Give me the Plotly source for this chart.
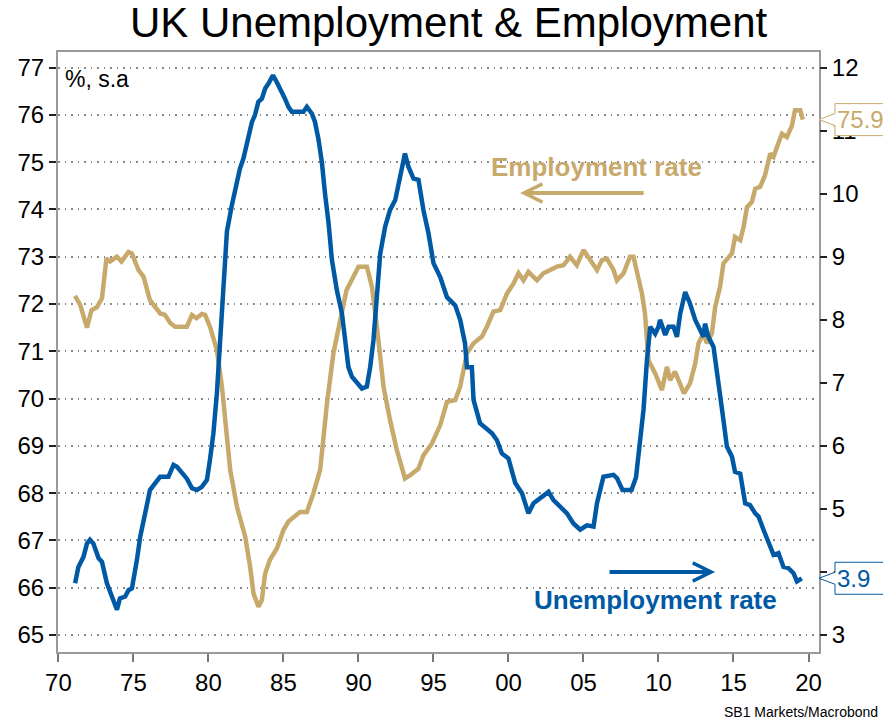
import plotly.graph_objects as go

# UK employment rate (%, left axis) and unemployment rate (%, right axis), s.a.
emp_years = [
    1971.10, 1971.45, 1971.90, 1972.20, 1972.56, 1972.90, 1973.20, 1973.45, 1973.90, 1974.20,
    1974.67, 1974.90, 1975.33, 1975.67, 1976.10, 1976.45, 1976.78, 1977.10, 1977.45, 1977.78,
    1978.56, 1978.90, 1979.20, 1979.56, 1979.78, 1980.10, 1980.56, 1980.90, 1981.23, 1981.45,
    1981.90, 1982.45, 1982.78, 1983.00, 1983.33, 1983.56, 1983.78, 1984.10, 1984.56, 1985.00,
    1985.33, 1985.67, 1986.10, 1986.56, 1987.00, 1987.45, 1987.90, 1988.33, 1988.78, 1989.20,
    1989.67, 1990.00, 1990.56, 1990.90, 1991.23, 1991.67, 1992.10, 1992.56, 1993.10, 1993.45,
    1994.00, 1994.33, 1994.90, 1995.45, 1995.90, 1996.45, 1996.78, 1997.23, 1997.67, 1998.23,
    1998.56, 1999.00, 1999.45, 1999.90, 2000.33, 2000.67, 2001.00, 2001.33, 2001.90, 2002.33,
    2002.78, 2003.23, 2003.67, 2004.10, 2004.56, 2005.00, 2005.45, 2005.90, 2006.23, 2006.56,
    2007.00, 2007.23, 2007.67, 2008.10, 2008.33, 2008.67, 2008.90, 2009.10, 2009.33, 2009.78,
    2010.23, 2010.56, 2010.78, 2011.10, 2011.45, 2011.70, 2012.10, 2012.45, 2012.67, 2013.00,
    2013.23, 2013.56, 2013.78, 2014.10, 2014.33, 2014.67, 2014.90, 2015.10, 2015.45, 2015.67,
    2015.90, 2016.23, 2016.45, 2016.78, 2017.10, 2017.45, 2017.67, 2017.90, 2018.23, 2018.56,
    2018.90, 2019.10, 2019.45, 2019.62,
]
emp_rate = [
    72.17, 71.98, 71.50, 71.87, 71.93, 72.12, 72.96, 72.90, 73.00, 72.90,
    73.10, 73.07, 72.72, 72.58, 72.08, 71.94, 71.80, 71.77, 71.60, 71.52,
    71.52, 71.77, 71.70, 71.79, 71.77, 71.52, 71.03, 70.25, 69.26, 68.49,
    67.71, 67.08, 66.44, 65.88, 65.60, 65.74, 66.30, 66.59, 66.83, 67.22,
    67.40, 67.50, 67.60, 67.60, 68.00, 68.50, 69.90, 70.96, 71.60, 72.29,
    72.58, 72.79, 72.79, 72.36, 71.52, 70.25, 69.55, 68.91, 68.31, 68.38,
    68.52, 68.80, 69.05, 69.44, 69.93, 69.97, 70.25, 70.96, 71.17, 71.31,
    71.52, 71.84, 71.87, 72.22, 72.43, 72.65, 72.50, 72.68, 72.50, 72.65,
    72.72, 72.79, 72.82, 73.00, 72.82, 73.14, 72.93, 72.72, 72.93, 72.96,
    72.72, 72.50, 72.65, 73.00, 73.00, 72.50, 72.22, 71.80, 70.81, 70.53,
    70.18, 70.67, 70.39, 70.57, 70.32, 70.11, 70.32, 70.74, 71.17, 71.38,
    71.17, 71.38, 71.94, 72.36, 72.86, 73.00, 73.07, 73.42, 73.35, 73.63,
    74.05, 74.16, 74.44, 74.48, 74.72, 75.18, 75.11, 75.32, 75.60, 75.53,
    75.78, 76.10, 76.10, 75.90,
]

unemp_years = [
    1971.11, 1971.33, 1971.67, 1971.90, 1972.10, 1972.33, 1972.67, 1972.90, 1973.23, 1973.56,
    1973.90, 1974.10, 1974.45, 1974.67, 1974.90, 1975.23, 1975.45, 1975.78, 1976.10, 1976.45,
    1976.78, 1977.33, 1977.67, 1977.90, 1978.23, 1978.56, 1978.90, 1979.23, 1979.56, 1979.90,
    1980.10, 1980.33, 1980.56, 1980.78, 1981.00, 1981.23, 1981.56, 1981.90, 1982.10, 1982.33,
    1982.56, 1982.90, 1983.10, 1983.33, 1983.56, 1983.78, 1984.00, 1984.30, 1984.56, 1984.78,
    1985.10, 1985.33, 1985.56, 1986.33, 1986.56, 1986.90, 1987.10, 1987.33, 1987.56, 1987.78,
    1988.00, 1988.23, 1988.56, 1988.90, 1989.10, 1989.33, 1989.56, 1989.90, 1990.23, 1990.56,
    1990.78, 1991.00, 1991.23, 1991.45, 1991.78, 1992.10, 1992.45, 1992.78, 1993.10, 1993.33,
    1993.67, 1994.00, 1994.33, 1994.67, 1995.00, 1995.45, 1995.90, 1996.45, 1996.78, 1997.10,
    1997.23, 1997.56, 1997.67, 1998.10, 1998.45, 1998.90, 1999.23, 1999.56, 2000.00, 2000.45,
    2000.90, 2001.33, 2001.67, 2002.10, 2002.67, 2003.00, 2003.45, 2003.90, 2004.33, 2004.78,
    2005.23, 2005.67, 2005.90, 2006.33, 2007.00, 2007.23, 2007.60, 2008.20, 2008.50, 2008.78,
    2009.00, 2009.23, 2009.45, 2009.78, 2010.00, 2010.10, 2010.45, 2010.67, 2011.00, 2011.23,
    2011.45, 2011.78, 2012.10, 2012.45, 2012.67, 2013.00, 2013.10, 2013.33, 2013.67, 2013.90,
    2014.10, 2014.33, 2014.56, 2014.90, 2015.10, 2015.45, 2015.78, 2016.10, 2016.45, 2016.67,
    2017.00, 2017.33, 2017.67, 2018.00, 2018.33, 2018.67, 2019.00, 2019.23, 2019.55,
]
unemp_rate = [
    3.82, 4.08, 4.24, 4.45, 4.51, 4.45, 4.22, 4.16, 3.82, 3.61,
    3.40, 3.58, 3.61, 3.71, 3.74, 4.19, 4.56, 4.93, 5.30, 5.41,
    5.51, 5.51, 5.70, 5.67, 5.56, 5.48, 5.33, 5.30, 5.35, 5.46,
    5.78, 6.20, 6.83, 7.68, 8.58, 9.40, 9.82, 10.19, 10.40, 10.56,
    10.82, 11.14, 11.25, 11.46, 11.51, 11.67, 11.75, 11.88, 11.77, 11.67,
    11.51, 11.38, 11.30, 11.30, 11.38, 11.27, 11.14, 10.87, 10.50, 9.98,
    9.55, 8.95, 8.47, 8.10, 7.68, 7.25, 7.10, 6.99, 6.91, 6.94,
    7.25, 7.68, 8.31, 9.05, 9.48, 9.74, 9.90, 10.27, 10.64, 10.43,
    10.24, 10.22, 9.74, 9.37, 8.90, 8.68, 8.36, 8.23, 8.00, 7.63,
    7.25, 7.25, 6.73, 6.36, 6.28, 6.20, 6.09, 5.88, 5.80, 5.41,
    5.25, 4.93, 5.09, 5.17, 5.27, 5.14, 5.03, 4.93, 4.77, 4.67,
    4.74, 4.72, 5.09, 5.51, 5.54, 5.49, 5.30, 5.30, 5.50, 6.04,
    6.57, 7.36, 7.89, 7.78, 7.89, 8.00, 7.76, 7.89, 7.89, 7.73,
    8.10, 8.44, 8.26, 8.00, 7.89, 7.73, 7.94, 7.73, 7.57, 7.20,
    6.83, 6.41, 5.99, 5.83, 5.59, 5.56, 5.09, 5.06, 4.93, 4.88,
    4.67, 4.45, 4.27, 4.30, 4.08, 4.06, 3.98, 3.85, 3.90,
]

x_tickvals = [1970, 1975, 1980, 1985, 1990, 1995, 2000, 2005, 2010, 2015, 2020]
x_ticktext = ["70", "75", "80", "85", "90", "95", "00", "05", "10", "15", "20"]
left_ticks = list(range(65, 78))
right_ticks = list(range(3, 13))

TAN = "#C8A96C"
BLUE = "#0059A4"
FONT = "Liberation Sans, Arial, sans-serif"

fig = go.Figure()
fig.add_trace(go.Scatter(
    x=emp_years, y=emp_rate, mode="lines", yaxis="y",
    line=dict(color=TAN, width=4.5), name="Employment rate", showlegend=False,
))
fig.add_trace(go.Scatter(
    x=unemp_years, y=unemp_rate, mode="lines", yaxis="y2",
    line=dict(color=BLUE, width=4.5), name="Unemployment rate", showlegend=False,
))

fig.update_layout(
    width=883, height=722,
    margin=dict(l=58, r=64, t=52, b=70),
    paper_bgcolor="white", plot_bgcolor="white",
    font=dict(family=FONT, size=24, color="black"),
    title=dict(text="UK Unemployment & Employment", x=0.508, xanchor="center",
               y=1 - 22 / 722, yanchor="middle", yref="container",
               font=dict(size=42, color="black")),
    xaxis=dict(
        range=[1969.97, 2020.7], tickvals=x_tickvals, ticktext=x_ticktext,
        ticks="outside", ticklen=8, tickwidth=1.5, tickcolor="#777",
        showline=True, linecolor="#9a9a9a", linewidth=2, mirror=True,
        showgrid=False, zeroline=False, tickfont=dict(size=24),
    ),
    yaxis=dict(
        range=[64.64, 77.33], tickvals=left_ticks,
        ticks="outside", ticklen=7, tickwidth=1.5, tickcolor="#222",
        showline=True, linecolor="#9a9a9a", linewidth=2, mirror=True,
        showgrid=True, gridcolor="#8a8a8a", gridwidth=1.5, griddash="1.5px,5px",
        zeroline=False, tickfont=dict(size=24),
    ),
    yaxis2=dict(
        range=[2.73, 12.25], tickvals=right_ticks, overlaying="y", side="right",
        ticks="outside", ticklen=7, tickwidth=1.5, tickcolor="#222",
        showline=False, showgrid=False, zeroline=False, tickfont=dict(size=24),
    ),
)

# Latest-value tags on the right axis
pointer = "M 0 0 L 16 6 L 16 16 L 100 16 L 100 -16 L 16 -16 L 16 -6 Z"
for val, axis, color in [(emp_rate[-1], "y", TAN), (unemp_rate[-1], "y2", BLUE)]:
    fig.add_shape(type="path", xref="paper", yref=axis,
                  xsizemode="pixel", ysizemode="pixel",
                  xanchor=1, yanchor=val, path=pointer,
                  line=dict(color=color, width=1), fillcolor="white", layer="above")
    fig.add_annotation(x=1, y=val, xref="paper", yref=axis, xshift=16,
                       xanchor="left", yanchor="middle", showarrow=False,
                       text=f"{val:.1f}", font=dict(size=24, color=color))

# Series labels with direction arrows pointing at their axes
fig.add_annotation(x=0.7071, y=0.808, xref="paper", yref="paper", showarrow=False,
                   xanchor="center", yanchor="middle",
                   text="<b>Employment rate</b>", font=dict(size=26, color=TAN))
fig.add_annotation(x=0.6073, y=0.765, xref="paper", yref="paper", ax=125, ay=0,
                   showarrow=True, arrowhead=5, arrowsize=0.9, arrowwidth=4,
                   arrowcolor=TAN, text="")
fig.add_annotation(x=0.7846, y=0.087, xref="paper", yref="paper", showarrow=False,
                   xanchor="center", yanchor="middle",
                   text="<b>Unemployment rate</b>", font=dict(size=26, color=BLUE))
fig.add_annotation(x=0.8634, y=0.1333, xref="paper", yref="paper", ax=-107, ay=0,
                   showarrow=True, arrowhead=5, arrowsize=0.9, arrowwidth=4,
                   arrowcolor=BLUE, text="")

fig.add_annotation(x=0.006, y=0.955, xref="paper", yref="paper", xanchor="left",
                   yanchor="middle", showarrow=False, text="%, s.a",
                   font=dict(size=23, color="black"))
fig.add_annotation(x=1.0801, y=-0.1165, xref="paper", yref="paper", xanchor="right",
                   yanchor="bottom", showarrow=False, text="SB1 Markets/Macrobond",
                   font=dict(size=14, color="black"))

fig.write_html("out.html")
